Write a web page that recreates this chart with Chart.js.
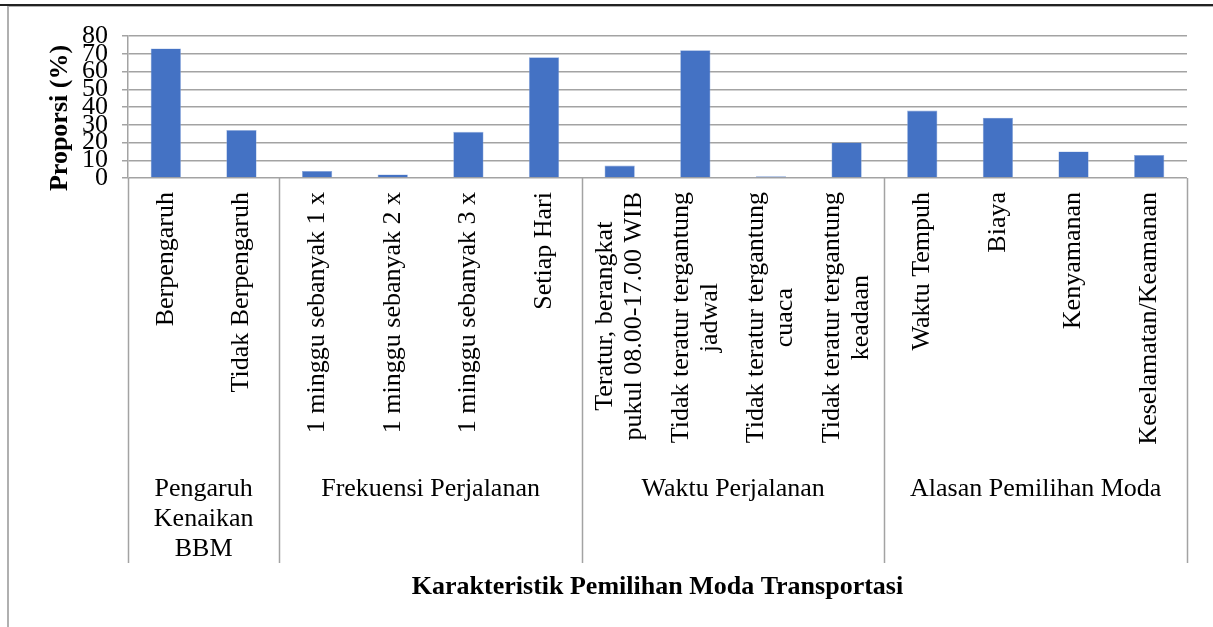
<!DOCTYPE html>
<html>
<head>
<meta charset="utf-8">
<script src="https://cdn.jsdelivr.net/npm/chart.js@4.4.0/dist/chart.umd.min.js"></script>
<style>
  html, body { margin: 0; padding: 0; background: #fff; }
  canvas { display: block; }
</style>
</head>
<body>
<canvas id="myChart" width="1213" height="627"></canvas>
<script>
// categories (each entry = lines of the rotated label)
const categories = [
  ["Berpengaruh"],
  ["Tidak Berpengaruh"],
  ["1 minggu sebanyak 1 x"],
  ["1 minggu sebanyak 2 x"],
  ["1 minggu sebanyak 3 x"],
  ["Setiap Hari"],
  ["Teratur, berangkat", "pukul 08.00-17.00 WIB"],
  ["Tidak teratur tergantung", "jadwal"],
  ["Tidak teratur tergantung", "cuaca"],
  ["Tidak teratur tergantung", "keadaan"],
  ["Waktu Tempuh"],
  ["Biaya"],
  ["Kenyamanan"],
  ["Keselamatan/Keamanan"]
];
const groupNames = [
  ["Pengaruh", "Kenaikan", "BBM"],
  ["Frekuensi Perjalanan"],
  ["Waktu Perjalanan"],
  ["Alasan Pemilihan Moda"]
];
const groupSizes = [2, 4, 4, 4];
const proporsi = [73, 27, 4, 2, 26, 68, 7, 72, 1, 20, 38, 34, 15, 13];
const yMax = 80;
const yStep = 10;

const FONT = '"Liberation Serif", "Times New Roman", serif';
const GRID = '#a3a3a3';

const labelsPlugin = {
  id: 'labelsPlugin',
  afterDraw(chart) {
    const ctx = chart.ctx;
    const x = chart.scales.x;
    const area = chart.chartArea;
    ctx.save();

    // frame
    ctx.fillStyle = '#222';
    ctx.fillRect(0, 4, chart.width, 2);
    ctx.fillStyle = '#b0b0b0';
    ctx.fillRect(7, 6, chart.width - 7, 1);
    ctx.fillRect(7, 6, 2, chart.height - 6);

    // rotated category labels
    ctx.fillStyle = '#000';
    ctx.font = '26px ' + FONT;
    categories.forEach((lines, i) => {
      const cx = x.getPixelForValue(i);
      let w = 0;
      lines.forEach(l => { w = Math.max(w, ctx.measureText(l).width); });
      ctx.save();
      ctx.translate(cx, 192);
      ctx.rotate(-Math.PI / 2);
      ctx.textAlign = 'center';
      ctx.textBaseline = 'middle';
      lines.forEach((l, j) => {
        ctx.fillText(l, -w / 2, (j - (lines.length - 1) / 2) * 29);
      });
      ctx.restore();
    });

    // group separators and names
    const edge = (b) => {
      if (b === 0) return x.left;
      if (b === categories.length) return x.right;
      return (x.getPixelForValue(b - 1) + x.getPixelForValue(b)) / 2;
    };
    ctx.strokeStyle = GRID;
    ctx.lineWidth = 1.5;
    let start = 0;
    const bounds = [0];
    groupSizes.forEach(s => { start += s; bounds.push(start); });
    bounds.forEach(b => {
      const px = Math.round(edge(b)) + 0.5;
      ctx.beginPath();
      ctx.moveTo(px, area.bottom);
      ctx.lineTo(px, 563);
      ctx.stroke();
    });
    ctx.textAlign = 'center';
    ctx.textBaseline = 'alphabetic';
    groupNames.forEach((lines, g) => {
      const cx = (edge(bounds[g]) + edge(bounds[g + 1])) / 2;
      lines.forEach((l, j) => ctx.fillText(l, cx, 496 + j * 30));
    });

    // axis titles
    ctx.font = 'bold 26px ' + FONT;
    ctx.fillText('Karakteristik Pemilihan Moda Transportasi', (area.left + area.right) / 2, 594);
    ctx.save();
    ctx.translate(67, 118);
    ctx.rotate(-Math.PI / 2);
    ctx.fillText('Proporsi (%)', 0, 0);
    ctx.restore();

    ctx.restore();
  }
};

const ctx = document.getElementById('myChart').getContext('2d');
new Chart(ctx, {
  type: 'bar',
  data: {
    labels: categories,
    datasets: [{
      label: 'Proporsi',
      data: proporsi,
      backgroundColor: '#4472C4',
      borderColor: '#8eaadb',
      borderWidth: 0.6,
      barPercentage: 0.4,
      categoryPercentage: 1
    }]
  },
  options: {
    responsive: false,
    animation: false,
    devicePixelRatio: 1,
    layout: { padding: { left: 0, right: 26, top: 36, bottom: 449 } },
    plugins: {
      legend: { display: false },
      title: { display: false },
      tooltip: { enabled: false }
    },
    scales: {
      x: {
        ticks: { display: false },
        grid: { display: false },
        border: { display: false },
        afterFit(s) { s.height = 0; }
      },
      y: {
        min: 0,
        max: yMax,
        ticks: {
          stepSize: yStep,
          autoSkip: false,
          padding: 14,
          color: '#000',
          font: { family: FONT, size: 26 }
        },
        grid: { color: GRID, lineWidth: 1.5, tickLength: 6 },
        border: { display: true, color: GRID, width: 1.5 },
        afterFit(s) { s.width = 128; }
      }
    }
  },
  plugins: [labelsPlugin]
});
</script>
</body>
</html>
